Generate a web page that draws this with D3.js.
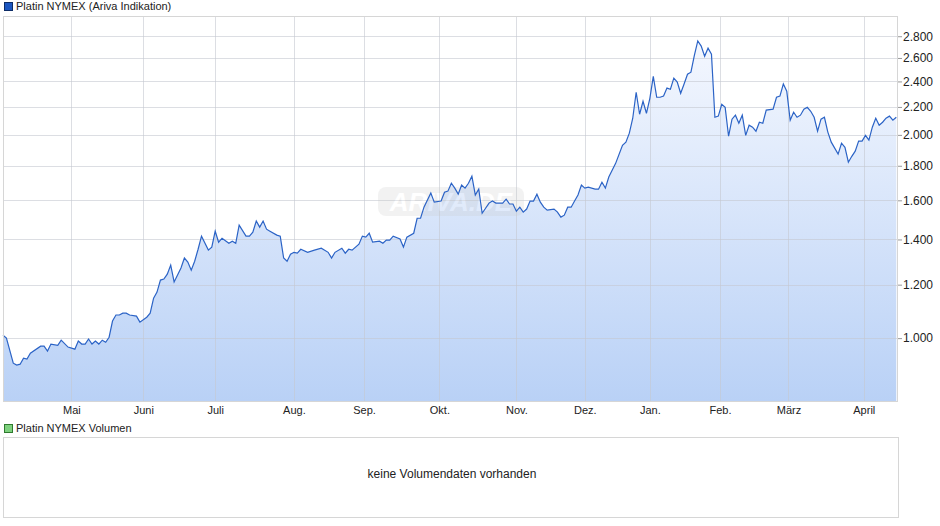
<!DOCTYPE html>
<html lang="de">
<head>
<meta charset="UTF-8">
<script src="https://d3js.org/d3.v7.min.js"></script>
<style>
  body { margin: 0; background: white; font-family: "Liberation Sans", Arial, sans-serif; }
  svg { display: block; }
  text { fill: #222; }
</style>
</head>
<body>
<svg width="940" height="526"></svg>
<script>
// trading session number and closing price
const sessions = [0,1,3,4,5,6,7,8,11,12,13,14,16,17,19,21,22,23,24,25,26,27,28,29,30,31,32,33,34,35,36,37,39,40,42,43,44,45,46,47,48,49,50,51,52,53,54,55,56,57,58,60,61,62,63,64,66,67,68,69,71,72,73,74,75,76,77,78,80,81,82,83,84,85,86,87,89,91,93,95,96,97,99,100,101,102,104,105,106,107,108,110,111,112,113,114,116,117,118,120,121,122,123,125,126,128,129,130,131,132,133,134,135,136,137,138,139,140,142,143,144,146,147,148,149,150,151,152,153,154,155,156,157,158,159,161,162,163,164,165,166,167,168,169,170,171,173,174,175,176,177,179,181,182,183,184,185,186,187,188,189,190,191,192,193,194,195,196,197,198,199,200,201,202,203,204,205,206,207,208,209,210,211,212,213,214,215,216,217,218,219,220,221,222,223,225,226,227,228,229,230,231,232,233,234,235,236,237,238,239,240,241,242,244,245,246,247,248,249,250,251,252,253,254,255,256,257,258,259,260,261];
const prices = [1010,1000,918,912,915,934,931,950,973,973,957,980,976,993,970,963,990,980,980,997,980,990,980,993,986,1003,1060,1082,1082,1089,1089,1082,1078,1056,1074,1089,1146,1170,1219,1223,1244,1283,1211,1240,1270,1314,1296,1261,1300,1354,1416,1350,1364,1440,1387,1406,1382,1392,1382,1470,1416,1416,1435,1491,1460,1491,1450,1440,1421,1416,1314,1300,1331,1340,1336,1354,1340,1350,1359,1340,1314,1340,1359,1336,1354,1350,1378,1416,1411,1430,1387,1392,1382,1397,1397,1416,1402,1364,1411,1430,1505,1505,1563,1640,1590,1596,1645,1651,1696,1668,1634,1685,1668,1696,1737,1629,1662,1531,1585,1596,1585,1585,1606,1580,1580,1542,1563,1537,1553,1596,1596,1634,1590,1563,1547,1553,1537,1511,1521,1563,1563,1596,1629,1685,1668,1673,1662,1662,1702,1668,1732,1815,1930,1951,2012,2117,2313,2146,2243,2153,2266,2441,2274,2274,2283,2346,2337,2427,2394,2305,2379,2460,2477,2624,2755,2707,2615,2688,2633,2124,2132,2220,2197,1991,2110,2139,2081,2139,1997,2067,2053,2025,2088,2081,2176,2183,2274,2283,2379,2321,2103,2161,2124,2139,2183,2197,2168,2124,2025,2110,2124,2019,1951,1873,1944,1917,1822,1859,1892,1958,1958,1997,1964,2053,2117,2067,2088,2117,2132,2103,2124];
const monthLabels = ["Mai","Juni","Juli","Aug.","Sep.","Okt.","Nov.","Dez.","Jan.","Feb.","März","April"];
const monthSessions = [20,41,62,85,105.5,127.5,150,170,189,209.5,229.5,251.5];
const yTicks = [1000,1200,1400,1600,1800,2000,2200,2400,2600,2800];

const data = sessions.map((s, i) => ({ s, v: prices[i] }));
const svg = d3.select("svg");
const pL = 3, pR = 898, pT = 16, pB = 401;

const x = d3.scaleLinear().domain([0, 261.5]).range([pL, pR]);
const y = d3.scaleLog().domain([807, 3000]).range([pB, pT]);
const fmt = d => d3.format(",")(d).replace(",", ".");

const defs = svg.append("defs");
const grad = defs.append("linearGradient").attr("id", "fill")
  .attr("gradientUnits", "userSpaceOnUse")
  .attr("x1", 0).attr("x2", 0).attr("y1", pT).attr("y2", pB);
grad.append("stop").attr("offset", 0).attr("stop-color", "#f8faff");
grad.append("stop").attr("offset", 1).attr("stop-color", "#b9d1f6");

// legend
svg.append("rect").attr("x", 4.5).attr("y", 2.5).attr("width", 8).attr("height", 8)
  .attr("fill", "#1b56c0").attr("stroke", "#0d2c66");
svg.append("text").attr("x", 16).attr("y", 10).attr("font-size", 11).text("Platin NYMEX (Ariva Indikation)");

// area
svg.append("path").datum(data)
  .attr("fill", "url(#fill)")
  .attr("d", d3.area().x(d => x(d.s)).y0(pB).y1(d => y(d.v)));

// grid
const grid = svg.append("g").attr("stroke", "#c4c8d0").attr("stroke-opacity", 0.6);
grid.selectAll(".h").data(yTicks).join("line")
  .attr("x1", pL).attr("x2", pR).attr("y1", d => Math.round(y(d)) + 0.5).attr("y2", d => Math.round(y(d)) + 0.5);
grid.selectAll(".v").data(monthSessions).join("line")
  .attr("y1", pT).attr("y2", pB).attr("x1", d => Math.round(x(d)) + 0.5).attr("x2", d => Math.round(x(d)) + 0.5);

// watermark
const wm = svg.append("g").attr("opacity", 0.22);
wm.append("rect").attr("x", 378).attr("y", 187).attr("width", 146).attr("height", 29).attr("rx", 8).attr("fill", "#c8c8c8");
wm.append("text").attr("x", 451).attr("y", 211).attr("text-anchor", "middle").attr("font-size", 26)
  .attr("font-weight", "bold").attr("font-style", "italic").style("fill", "white").text("ARIVA.DE");

svg.append("path").datum(data)
  .attr("fill", "none").attr("stroke", "#2b63c6").attr("stroke-width", 1.2)
  .attr("d", d3.line().x(d => x(d.s)).y(d => y(d.v)));

// frame
svg.append("rect").attr("x", pL + 0.5).attr("y", pT + 0.5).attr("width", pR - pL - 1).attr("height", pB - pT)
  .attr("fill", "none").attr("stroke", "#d6d6d6");

// axes
const yAxis = svg.append("g").attr("transform", `translate(${pR},0)`)
  .call(d3.axisRight(y).tickValues(yTicks).tickFormat(fmt).tickSize(4));
yAxis.select(".domain").remove();
yAxis.selectAll("line").attr("stroke", "#999");
yAxis.selectAll("text").attr("font-size", 12).attr("font-family", "Liberation Sans, Arial").attr("x", 5).style("fill", "#222");

const xAxis = svg.append("g").attr("transform", `translate(0,${pB})`)
  .call(d3.axisBottom(x).tickValues(monthSessions).tickFormat((d, i) => monthLabels[i]).tickSize(0));
xAxis.select(".domain").remove();
xAxis.selectAll("text").attr("font-size", 11).attr("font-family", "Liberation Sans, Arial").attr("dy", "0.95em").style("fill", "#222");

// volume panel
svg.append("rect").attr("x", 4.5).attr("y", 424.5).attr("width", 8).attr("height", 8)
  .attr("fill", "#7ed17e").attr("stroke", "#2f7a2f");
svg.append("text").attr("x", 16).attr("y", 432).attr("font-size", 11).text("Platin NYMEX Volumen");
svg.append("rect").attr("x", 3.5).attr("y", 437.5).attr("width", 895).attr("height", 80)
  .attr("fill", "none").attr("stroke", "#d6d6d6");
svg.append("text").attr("x", 452).attr("y", 478).attr("text-anchor", "middle").attr("font-size", 12)
  .text("keine Volumendaten vorhanden");
</script>
</body>
</html>
